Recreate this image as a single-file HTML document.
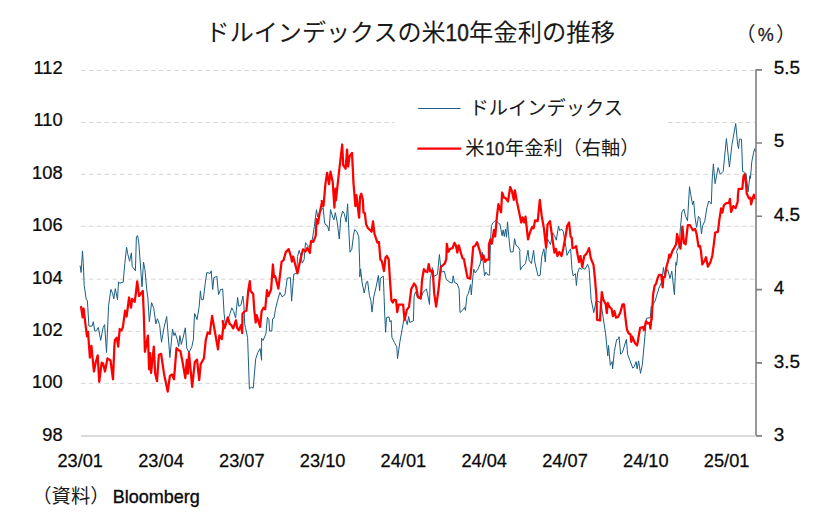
<!DOCTYPE html>
<html lang="ja"><head><meta charset="utf-8"><title>ドルインデックスの米10年金利の推移</title>
<style>html,body{margin:0;padding:0;background:#fff}body{width:818px;height:518px;overflow:hidden;font-family:"Liberation Sans",sans-serif}svg{display:block}</style>
</head><body>
<svg width="818" height="518" viewBox="0 0 818 518" role="img" aria-label="ドルインデックスの米10年金利の推移">
<title>ドルインデックスの米10年金利の推移</title>
<desc>ドルインデックス、米10年金利（右軸）。単位（%）。（資料）Bloomberg</desc>
<rect width="818" height="518" fill="#fff"/>
<g stroke="#d6d6d6" stroke-width="1" stroke-dasharray="4.6 3.176" fill="none">
<path d="M81.1 70.5H755"/>
<path d="M81.1 122.5H394.5M668 122.5H755"/>
<path d="M81.1 174.4H755"/>
<path d="M81.1 226.3H755"/>
<path d="M81.1 279.2H755"/>
<path d="M81.1 331.4H755"/>
<path d="M81.1 383.4H755"/>
</g>
<path d="M81.1 436H756.0" stroke="#cfcfcf" stroke-width="1.7" fill="none"/>
<polyline fill="none" stroke="#1a5f84" stroke-width="1.0" stroke-linejoin="round" points="80.1,265.6 81.1,272.5 82.5,250.9 83.3,263.4 84.2,285.4 86.3,299.7 87.4,300.4 88.9,326.1 92.1,326.1 93.3,321.7 94.8,331.2 96.5,330.8 98.3,327.5 100.7,340.4 103.1,327.5 104.6,324.6 106.5,352.5 108.6,305.5 110.9,289.4 112.7,293.8 113.8,298.9 115.3,288.7 117.5,299.7 118.5,281.8 119.6,283.2 123.2,282.2 124.8,263.4 126.6,247.3 127.6,253.4 129.6,261.2 131.4,252.8 132.2,266.3 135.4,270.8 136.4,236.7 137.6,235.5 138.8,242.9 142.0,286.9 143.5,262.2 144.9,269.3 146.9,291.0 147.9,298.2 149.3,321.7 151.6,302.6 153.8,308.5 155.9,323.9 157.4,318.7 159.6,324.6 161.5,342.2 164.0,327.5 166.7,316.5 169.9,357.6 172.5,329.0 174.0,335.6 175.0,332.7 177.2,339.3 178.7,346.6 179.9,335.6 181.3,344.4 183.1,337.8 185.3,327.8 186.8,348.1 189.0,352.5 191.9,346.6 193.4,339.3 194.5,313.6 194.8,313.7 197.0,319.6 199.2,306.3 200.4,290.9 201.4,299.7 203.3,299.7 205.1,284.3 206.8,272.6 210.2,273.3 211.2,270.8 212.7,289.5 213.9,277.7 216.8,276.3 218.6,294.6 220.5,289.5 222.7,289.0 224.1,313.7 225.3,323.9 227.8,319.6 230.0,313.7 231.8,307.8 233.7,311.5 235.6,318.1 237.6,297.5 238.8,306.3 241.0,304.9 242.9,296.1 243.9,304.9 244.7,323.9 245.4,327.3 247.6,337.6 249.4,388.9 251.3,387.2 253.2,388.2 255.7,358.9 257.9,352.3 260.1,348.6 261.6,360.3 261.6,338.3 263.0,340.5 265.9,333.9 267.4,317.4 268.9,319.6 269.6,331.0 271.8,331.0 272.6,318.8 274.0,318.1 275.5,309.3 277.2,301.9 279.9,292.4 282.1,296.8 285.0,294.6 287.2,278.2 290.4,277.7 291.6,301.2 293.8,274.1 296.8,273.3 297.5,256.6 299.2,250.4 301.1,256.6 302.2,263.2 304.1,259.6 305.5,242.7 307.7,245.6 309.5,247.1 310.7,243.4 312.4,239.0 314.3,226.5 316.5,209.7 317.7,217.0 319.5,212.6 321.7,209.7 323.1,207.5 324.6,222.9 326.1,225.1 327.5,225.8 329.0,230.9 330.5,209.7 332.7,217.0 333.9,219.9 335.3,212.6 337.1,221.4 339.3,239.0 340.7,218.5 342.6,211.1 344.1,213.3 346.2,222.1 347.6,203.8 349.1,236.1 350.0,252.2 351.8,249.3 353.5,235.3 354.7,229.5 356.9,231.7 358.8,236.8 359.8,268.4 359.8,276.9 360.6,268.8 362.0,282.0 364.2,293.0 366.4,282.0 367.6,281.3 369.4,295.2 370.8,300.3 372.0,312.1 373.8,296.7 375.9,287.9 378.4,275.4 379.6,290.8 380.4,278.3 383.3,276.1 384.8,315.8 385.6,332.3 386.5,317.6 389.0,316.9 390.0,322.0 391.2,320.5 391.9,337.4 394.4,342.5 396.8,346.9 397.5,358.7 400.0,341.1 403.7,320.5 405.3,317.9 407.2,324.6 408.7,316.5 409.7,322.4 413.4,320.9 414.1,296.3 415.5,291.9 417.7,297.8 420.7,298.6 423.3,291.9 426.5,289.0 429.5,304.4 430.2,279.5 432.4,267.7 433.9,276.5 437.5,274.3 439.4,254.5 441.2,272.1 444.4,271.4 446.3,279.5 450.0,282.4 452.2,283.1 453.2,275.8 454.4,282.4 457.3,283.9 459.1,289.0 460.0,312.5 462.5,310.3 464.7,307.4 465.4,310.3 466.9,296.3 468.4,293.4 470.6,284.6 471.3,294.9 472.8,277.3 473.8,269.2 475.2,272.9 477.9,269.2 480.1,264.1 482.3,252.3 484.5,275.8 485.9,272.1 488.1,275.1 489.6,275.1 490.4,244.6 491.4,225.5 493.3,222.5 495.5,220.3 497.7,222.5 499.9,224.0 502.1,235.8 503.1,229.9 504.3,236.5 505.5,229.1 506.5,237.2 507.5,221.8 508.7,235.8 510.4,251.9 513.1,251.9 514.6,238.7 516.0,245.3 518.2,246.8 520.1,250.4 519.7,251.7 520.4,270.1 521.9,267.1 525.5,263.5 527.0,255.4 528.0,250.3 529.2,260.5 531.4,263.5 533.6,250.3 534.8,262.0 538.0,275.9 540.2,275.2 541.7,256.9 543.9,248.8 545.3,262.0 546.1,250.3 547.5,238.7 550.5,244.6 552.7,232.8 554.9,236.5 556.3,240.2 558.5,226.2 559.7,230.6 561.5,229.1 563.2,231.3 564.7,240.2 565.9,247.5 567.0,255.4 569.1,251.0 570.6,248.8 572.0,269.3 573.2,275.9 575.4,273.7 576.4,285.5 577.6,273.0 579.4,267.9 581.3,269.3 582.8,267.9 585.0,269.3 587.6,264.2 589.1,268.6 590.1,284.0 591.1,299.4 593.8,312.6 596.0,301.6 599.3,301.6 601.2,304.4 603.4,319.1 605.6,333.7 607.8,355.8 608.5,345.5 610.3,365.3 612.2,361.6 612.6,368.9 614.4,351.3 616.6,339.6 618.5,338.9 619.1,336.7 620.6,354.3 622.5,352.1 626.4,339.3 627.6,354.3 629.8,360.1 632.8,368.2 634.2,366.8 636.1,361.6 637.1,368.9 638.6,360.9 640.5,373.4 642.3,364.6 644.5,341.1 646.4,318.3 650.4,317.6 651.1,306.6 652.5,305.9 655.5,300.0 656.1,297.5 659.0,288.0 661.9,281.4 663.4,267.5 664.4,274.1 667.8,269.7 670.0,278.5 671.8,271.1 674.4,294.6 675.9,262.3 676.6,265.3 677.6,255.0 676.5,251.6 679.0,245.8 680.5,226.7 681.9,212.0 683.9,209.1 685.6,216.4 687.5,220.8 689.5,186.7 690.7,194.4 692.6,204.7 693.7,201.0 695.1,217.9 696.6,227.4 698.5,216.4 700.0,218.6 701.5,234.0 702.5,225.9 704.7,221.5 706.9,207.6 708.8,201.0 711.3,203.9 712.2,179.3 713.4,163.9 715.1,183.7 718.1,167.6 720.3,174.2 723.2,171.3 726.4,138.5 729.4,167.1 732.0,144.3 735.7,123.5 737.6,144.3 738.6,148.7 739.4,139.2 741.5,139.2 742.6,171.5 744.5,172.2 746.0,173.7 747.0,182.3 748.1,191.8 749.9,175.7 750.4,178.6 751.8,161.7 753.7,152.2 754.8,148.7 755.8,151.7"/>
<polyline fill="none" stroke="#ff0000" stroke-width="2.25" stroke-linejoin="round" stroke-linecap="round" points="81.1,307.0 82.6,317.3 83.6,308.5 85.5,324.6 87.0,336.3 88.0,331.9 89.9,357.6 91.4,345.9 93.9,371.5 95.8,362.0 97.7,355.4 99.2,381.8 101.7,362.7 103.1,363.5 105.0,371.5 107.5,358.3 110.5,360.5 113.0,379.3 114.4,345.9 114.9,340.0 116.8,337.8 118.2,346.6 119.7,329.0 121.5,330.5 122.9,326.8 125.1,310.7 126.6,316.5 129.1,297.5 131.0,307.7 132.2,298.9 134.7,301.9 135.8,293.8 137.2,281.3 139.1,296.0 142.8,290.9 143.8,314.3 144.9,351.8 147.9,335.6 149.1,369.3 150.1,353.2 151.1,373.0 153.8,346.6 155.2,373.7 157.0,381.1 158.9,354.7 161.1,353.9 164.0,373.7 167.7,391.6 169.9,375.9 172.1,374.5 174.0,379.3 176.5,348.1 178.7,350.3 180.4,351.0 182.4,361.3 185.3,378.1 186.8,359.8 187.8,373.7 189.0,353.2 192.2,386.9 194.8,362.0 197.0,359.6 199.2,380.1 200.7,364.0 203.9,358.4 205.8,339.8 207.7,332.5 209.8,333.9 212.1,315.9 218.0,349.3 219.4,335.4 221.9,339.1 223.4,325.9 222.7,321.0 224.4,328.4 225.9,323.9 227.8,317.4 229.7,323.9 231.5,325.4 233.2,328.4 235.9,320.3 237.3,328.4 238.8,330.3 241.0,325.1 242.2,333.2 242.5,313.7 244.4,311.5 246.4,310.8 248.3,290.2 249.8,281.1 250.6,290.9 253.2,293.9 254.2,309.3 255.7,322.5 256.7,315.1 260.1,326.9 261.6,311.5 263.5,307.8 265.2,309.3 267.0,290.2 268.4,296.1 271.1,289.5 272.9,264.5 274.0,277.0 275.2,276.3 278.4,288.7 281.6,261.6 283.6,260.1 285.8,252.1 288.7,249.1 291.3,257.9 291.9,261.6 293.1,256.5 294.6,262.3 297.5,273.3 300.4,259.6 303.0,249.3 305.5,251.5 307.4,247.8 309.9,252.9 311.0,241.2 313.3,241.9 315.8,235.3 316.5,219.2 318.0,223.6 319.5,214.1 322.1,201.6 323.1,206.0 321.7,201.0 323.6,205.4 325.3,184.9 327.1,172.8 329.0,184.1 330.5,171.7 332.7,181.9 334.4,207.6 335.6,188.6 335.9,200.3 339.3,169.5 342.2,144.5 343.2,165.1 345.6,168.7 347.1,149.7 348.1,166.5 349.6,156.3 352.0,152.9 353.5,183.4 355.4,206.2 356.4,195.2 359.1,217.7 360.1,196.6 361.3,193.7 362.8,199.6 363.5,212.6 364.9,213.3 366.1,224.3 367.9,228.0 371.6,231.7 373.0,221.4 374.5,233.9 377.4,242.7 378.9,241.9 380.4,259.6 381.8,261.0 384.0,271.0 385.5,257.4 386.9,255.9 388.7,259.6 389.9,279.1 391.4,300.3 392.8,302.5 394.3,299.6 396.1,300.3 397.2,312.1 398.7,304.7 403.1,304.7 404.6,320.1 406.8,309.9 409.0,306.9 411.2,289.3 414.1,283.5 416.0,286.4 416.3,287.5 418.0,297.1 420.7,298.6 422.1,279.5 423.9,269.2 425.8,271.4 427.3,272.1 428.7,264.1 430.2,271.4 432.7,270.7 434.2,293.4 436.1,306.6 438.6,289.0 440.0,274.3 440.9,267.0 444.9,263.3 446.3,258.9 446.8,243.8 448.2,251.9 450.0,248.9 452.6,248.2 454.4,242.8 455.9,245.3 457.3,252.6 458.8,245.3 461.0,253.3 462.5,258.2 463.9,258.9 465.4,267.0 467.6,278.0 470.2,278.7 471.7,264.1 473.2,246.8 474.9,246.0 477.1,242.3 479.4,249.7 480.1,252.3 482.0,259.7 483.5,255.3 485.2,261.9 486.7,259.7 488.9,259.7 488.9,244.6 490.4,239.4 491.8,243.8 494.0,229.9 495.2,236.5 496.9,216.7 498.4,204.2 501.1,212.3 502.1,192.5 504.0,197.6 505.8,198.3 508.0,201.3 510.2,187.0 511.9,191.0 513.8,199.8 514.9,190.3 516.8,201.3 519.0,211.5 521.2,222.5 522.6,217.4 524.1,222.5 525.5,216.7 528.0,239.4 529.9,232.8 532.1,226.9 533.6,228.4 535.1,220.3 537.7,221.1 539.8,199.8 541.7,215.9 543.9,228.4 546.1,247.5 547.5,224.7 550.0,221.1 552.4,238.7 554.4,252.6 555.9,248.9 557.4,256.0 559.3,251.9 561.5,256.0 563.2,248.9 565.6,235.8 567.3,225.5 569.1,222.5 570.6,236.5 571.8,237.9 572.5,248.2 574.7,247.5 576.1,246.0 577.6,254.7 579.1,262.0 580.5,256.1 582.3,267.1 584.2,256.1 586.4,253.9 589.1,248.1 590.8,258.3 593.5,264.9 594.9,278.1 596.4,295.8 597.1,319.8 600.0,320.5 601.8,292.1 603.3,299.4 605.8,304.6 606.8,313.2 607.8,302.9 609.3,306.6 611.5,308.8 612.9,316.1 614.4,311.0 615.9,317.6 618.1,316.9 620.3,312.5 622.5,304.4 624.0,304.4 625.4,317.6 626.9,329.3 628.4,333.0 630.5,334.5 631.3,341.8 632.3,336.7 635.0,343.3 637.1,345.5 638.6,336.7 640.1,327.9 643.0,327.1 644.0,330.1 646.0,321.3 647.9,323.5 649.6,322.7 650.4,328.6 651.8,314.7 651.7,319.6 652.4,306.3 653.1,294.6 654.6,285.8 656.1,283.6 657.5,278.5 659.0,274.8 661.2,274.8 662.7,287.3 663.4,277.0 664.9,277.0 666.3,267.5 668.5,259.4 669.2,254.6 670.2,257.5 672.4,250.9 674.6,247.2 676.1,244.3 677.1,234.0 678.6,241.3 680.5,248.7 682.4,226.7 683.9,242.8 685.6,244.3 687.8,225.2 690.0,225.2 692.9,230.3 695.1,228.9 696.6,234.0 698.5,246.5 700.0,245.8 701.0,251.6 702.3,264.5 704.5,260.9 706.0,257.2 707.9,266.7 710.4,262.3 712.3,255.7 713.8,244.3 715.2,232.5 717.9,231.8 719.4,219.3 721.1,208.3 722.3,212.7 723.8,205.4 726.0,203.2 728.9,203.2 729.9,198.8 731.1,212.0 733.3,206.1 735.5,208.3 737.7,201.7 737.9,195.5 738.6,188.9 742.3,188.9 743.5,176.4 744.9,174.2 746.0,183.7 746.7,193.3 748.9,198.4 750.4,197.7 751.1,204.3 752.9,197.7 754.0,194.7 755.2,198.4"/>
<path d="M756.0 69.2V435.2M756.0 69.9h6M756.0 143.0h6M756.0 216.2h6M756.0 289.6h6M756.0 362.9h6M756.0 435.9h6" stroke="#7f7f7f" stroke-width="1.6" fill="none"/>
<g font-family="Liberation Sans, sans-serif" fill="#0a0a0a" stroke="#0a0a0a" stroke-width="0.25">
<text transform="translate(62.6 74.0) scale(1.035 1)" text-anchor="end" font-size="17.7">112</text>
<text transform="translate(62.6 126.4) scale(1.035 1)" text-anchor="end" font-size="17.7">110</text>
<text transform="translate(62.6 178.7) scale(1.035 1)" text-anchor="end" font-size="17.7">108</text>
<text transform="translate(62.6 231.1) scale(1.035 1)" text-anchor="end" font-size="17.7">106</text>
<text transform="translate(62.6 283.5) scale(1.035 1)" text-anchor="end" font-size="17.7">104</text>
<text transform="translate(62.6 335.8) scale(1.035 1)" text-anchor="end" font-size="17.7">102</text>
<text transform="translate(62.6 388.2) scale(1.035 1)" text-anchor="end" font-size="17.7">100</text>
<text transform="translate(62.6 440.6) scale(1.035 1)" text-anchor="end" font-size="17.7">98</text>
<text transform="translate(773.8 74.1) scale(1.07 1)" text-anchor="start" font-size="17.7">5.5</text>
<text transform="translate(773.8 147.4) scale(1.07 1)" text-anchor="start" font-size="17.7">5</text>
<text transform="translate(773.8 220.8) scale(1.07 1)" text-anchor="start" font-size="17.7">4.5</text>
<text transform="translate(773.8 294.1) scale(1.07 1)" text-anchor="start" font-size="17.7">4</text>
<text transform="translate(773.8 367.5) scale(1.07 1)" text-anchor="start" font-size="17.7">3.5</text>
<text transform="translate(773.8 440.8) scale(1.07 1)" text-anchor="start" font-size="17.7">3</text>
<text transform="translate(80.2 466.9) scale(1.03 1)" text-anchor="middle" font-size="17.7">23/01</text>
<text transform="translate(161.0 466.9) scale(1.03 1)" text-anchor="middle" font-size="17.7">23/04</text>
<text transform="translate(241.8 466.9) scale(1.03 1)" text-anchor="middle" font-size="17.7">23/07</text>
<text transform="translate(322.6 466.9) scale(1.03 1)" text-anchor="middle" font-size="17.7">23/10</text>
<text transform="translate(403.4 466.9) scale(1.03 1)" text-anchor="middle" font-size="17.7">24/01</text>
<text transform="translate(484.2 466.9) scale(1.03 1)" text-anchor="middle" font-size="17.7">24/04</text>
<text transform="translate(565.0 466.9) scale(1.03 1)" text-anchor="middle" font-size="17.7">24/07</text>
<text transform="translate(645.8 466.9) scale(1.03 1)" text-anchor="middle" font-size="17.7">24/10</text>
<text transform="translate(726.6 466.9) scale(1.03 1)" text-anchor="middle" font-size="17.7">25/01</text>
<text transform="translate(112.7 502.5) scale(0.985 1)" text-anchor="start" font-size="18.3" stroke-width="0.35">Bloomberg</text>
</g>
<text x="205.6" y="41.3" font-family="'Liberation Sans', 'Noto Sans CJK JP', sans-serif" font-size="24" fill="#1a1a1a" textLength="240" lengthAdjust="spacingAndGlyphs">ドルインデックスの米</text>
<text x="445.6" y="41.3" font-family="Liberation Sans, sans-serif" font-size="23.2" fill="#1a1a1a" stroke="#1a1a1a" stroke-width="0.5" textLength="23.2" lengthAdjust="spacingAndGlyphs">10</text>
<text x="469" y="41.3" font-family="'Liberation Sans', 'Noto Sans CJK JP', sans-serif" font-size="24" fill="#1a1a1a" textLength="146" lengthAdjust="spacingAndGlyphs">年金利の推移</text>
<text x="755.5" y="41.2" font-family="'Liberation Sans', 'Noto Sans CJK JP', sans-serif" font-size="20" fill="#1a1a1a" text-anchor="end">（</text>
<text x="765.8" y="40.6" font-family="Liberation Sans, sans-serif" font-size="18" fill="#1a1a1a" stroke="#1a1a1a" stroke-width="0.3" text-anchor="middle">%</text>
<text x="776" y="41.2" font-family="'Liberation Sans', 'Noto Sans CJK JP', sans-serif" font-size="20" fill="#1a1a1a" text-anchor="start">）</text>
<path d="M418.2 108.4H460.5" stroke="#1a5f84" stroke-width="1.05"/>
<path d="M417.4 148.5H461.2" stroke="#ff0000" stroke-width="2.25"/>
<text x="469.5" y="114.7" font-family="'Liberation Sans', 'Noto Sans CJK JP', sans-serif" font-size="19.2" fill="#1a1a1a" textLength="153.6" lengthAdjust="spacingAndGlyphs">ドルインデックス</text>
<text x="465.2" y="154.9" font-family="'Liberation Sans', 'Noto Sans CJK JP', sans-serif" font-size="19.2" fill="#1a1a1a">米</text>
<text x="485.6" y="154.9" font-family="Liberation Sans, sans-serif" font-size="19.2" fill="#1a1a1a" stroke="#1a1a1a" stroke-width="0.4" textLength="18.8" lengthAdjust="spacingAndGlyphs">10</text>
<text x="505" y="154.9" font-family="'Liberation Sans', 'Noto Sans CJK JP', sans-serif" font-size="19.2" fill="#1a1a1a" textLength="134.4" lengthAdjust="spacingAndGlyphs">年金利（右軸）</text>
<text x="32.3" y="502.6" font-family="'Liberation Sans', 'Noto Sans CJK JP', sans-serif" font-size="19.3" fill="#1a1a1a" textLength="77.2" lengthAdjust="spacingAndGlyphs">（資料）</text>
</svg>
</body></html>
